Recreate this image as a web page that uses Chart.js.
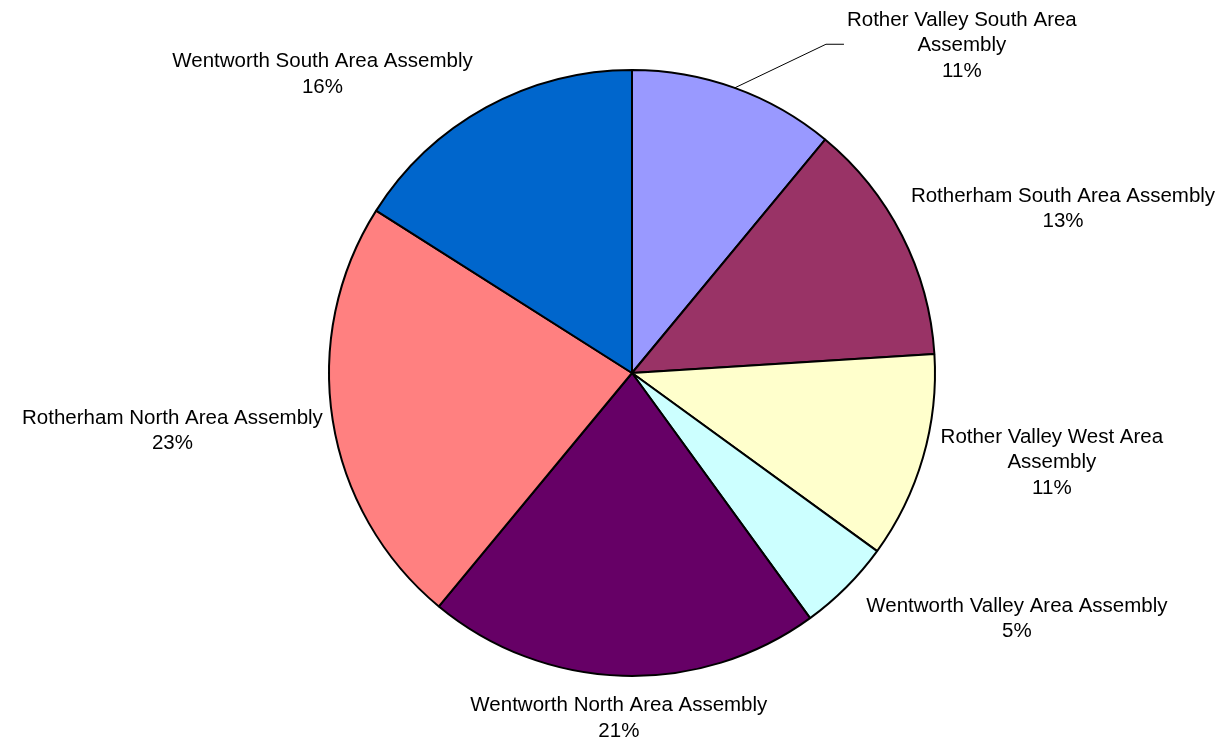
<!DOCTYPE html>
<html lang="en">
<head>
    <meta charset="UTF-8">
    <title>Area Assembly Share</title>
    <script src="https://cdn.jsdelivr.net/npm/chart.js"></script>
    <style>
        body { margin: 0; background: #fff; }
        .chart-box { width: 1224px; height: 741px; }
    </style>
</head>
<body>

    <div class="chart-box">
        <canvas id="assemblyPie" width="1224" height="741"></canvas>
    </div>

    <script>
        // Areas, clockwise from 12 o'clock
        const categories = [
            ['Rother Valley South Area', 'Assembly'],
            ['Rotherham South Area Assembly'],
            ['Rother Valley West Area', 'Assembly'],
            ['Wentworth Valley Area Assembly'],
            ['Wentworth North Area Assembly'],
            ['Rotherham North Area Assembly'],
            ['Wentworth South Area Assembly']
        ];
        const shares = [11, 13, 11, 5, 21, 23, 16];
        const sliceColours = ['#9999FF', '#993366', '#FFFFCC', '#CCFFFF', '#660066', '#FF8080', '#0066CC'];

        // Labels sit just outside each slice; a dragged-out label gets a leader line
        const outsideLabels = {
            id: 'outsideLabels',
            afterDatasetsDraw(chart, args, opts) {
                const ctx = chart.ctx;
                const meta = chart.getDatasetMeta(0);
                const values = chart.data.datasets[0].data;
                const total = values.reduce((a, b) => a + b, 0);
                const clamp = v => Math.max(-1, Math.min(1, v));

                ctx.save();
                ctx.font = opts.font;
                ctx.fillStyle = '#000';
                ctx.textAlign = 'center';
                ctx.textBaseline = 'alphabetic';

                meta.data.forEach((arc, i) => {
                    const p = arc.getProps(['x', 'y', 'startAngle', 'endAngle', 'outerRadius'], true);
                    const mid = (p.startAngle + p.endAngle) / 2;
                    const ux = Math.cos(mid), uy = Math.sin(mid);
                    const lines = [].concat(chart.data.labels[i], Math.round(values[i] / total * 100) + '%');
                    const w = Math.max(...lines.map(l => ctx.measureText(l).width));
                    const h = lines.length * opts.lineHeight;
                    const ax = p.x + (p.outerRadius + opts.gap) * ux;
                    const ay = p.y + (p.outerRadius + opts.gap) * uy;
                    const shift = opts.shift[i] || [0, 0];
                    const cx = ax + clamp(opts.k * ux) * w / 2 + shift[0];
                    const cy = ay + clamp(opts.k * uy) * h / 2 + shift[1];

                    if (opts.leaders.includes(i)) {
                        const left = cx - w / 2;
                        ctx.beginPath();
                        ctx.strokeStyle = '#000';
                        ctx.lineWidth = 1;
                        ctx.moveTo(p.x + p.outerRadius * ux, p.y + p.outerRadius * uy);
                        ctx.lineTo(left - 21, cy);
                        ctx.lineTo(left - 3, cy);
                        ctx.stroke();
                    }

                    lines.forEach((l, j) => {
                        ctx.fillText(l, cx, cy - h / 2 + j * opts.lineHeight + opts.baseline);
                    });
                });
                ctx.restore();
            }
        };

        new Chart(document.getElementById('assemblyPie').getContext('2d'), {
            type: 'pie',
            data: {
                labels: categories,
                datasets: [{
                    data: shares,
                    backgroundColor: sliceColours,
                    borderColor: '#000',
                    borderWidth: 2,
                    hoverOffset: 0
                }]
            },
            options: {
                responsive: false,
                animation: false,
                layout: { padding: { left: 40, right: 0, top: 69, bottom: 64 } },
                plugins: {
                    legend: { display: false },
                    tooltip: { enabled: false },
                    outsideLabels: {
                        font: '20.5px "Liberation Sans", Arial, sans-serif',
                        lineHeight: 25.5,
                        baseline: 19.5,
                        gap: 10,
                        k: 2,
                        leaders: [0],
                        shift: { 0: [146, 4], 2: [8, -20], 3: [13, -2], 4: [6, 6], 6: [-14, 0] }
                    }
                }
            },
            plugins: [outsideLabels]
        });
    </script>

</body>
</html>
